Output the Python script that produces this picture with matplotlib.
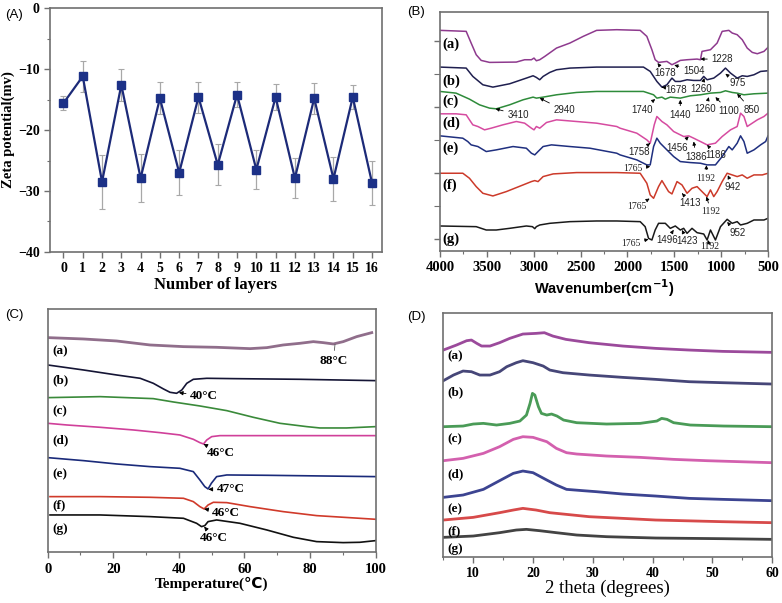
import matplotlib
matplotlib.use('Agg')
import matplotlib.pyplot as plt
from matplotlib.ticker import MultipleLocator, FixedLocator

SERIF = ['Liberation Serif', 'DejaVu Serif']
SANS = ['Liberation Sans', 'DejaVu Sans']

### (A) zeta potential vs number of layers
layers = list(range(17))
zeta = [-15.6, -11.2, -28.5, -12.6, -27.9, -14.8, -27.0, -14.6, -25.7,
        -14.2, -26.5, -14.6, -27.9, -14.8, -28.0, -14.6, -28.7]
zeta_err = [1.1, 2.5, 4.4, 2.6, 3.9, 2.6, 3.7, 2.55, 3.35,
            2.1, 3.25, 2.2, 3.3, 2.5, 3.65, 1.9, 3.65]

### (B) FTIR spectra (wavenumber, transmittance a.u.)
ir_labels = ['(a)', '(b)', '(c)', '(d)', '(e)', '(f)', '(g)']
ir_colors = ['#8e3a8e', '#1f1f4f', '#2e8b3a', '#d64ba0', '#1f2f7f', '#cc3a2a', '#1a1a1a']
ir_wn = [
    [4000, 3721, 3668, 3614, 3561, 3471, 3186, 3097, 3025, 2997, 2972, 2936, 2882, 2757, 2614, 2472, 2329, 2114,
     1864, 1793, 1739, 1704, 1668, 1579, 1525, 1489, 1436, 1364, 1257, 1221, 1204, 1114, 1043, 989, 918, 882,
     829, 775, 722, 668, 614, 543, 500],
    [4000, 3721, 3650, 3543, 3436, 3257, 3079, 3007, 2972, 2936, 2900, 2829, 2757, 2614, 2329, 2114,
     1829, 1757, 1686, 1632, 1579, 1525, 1489, 1436, 1364, 1293, 1221, 1186, 1150, 1079, 1007, 954, 900,
     829, 775, 722, 650, 579, 500],
    [4000, 3829, 3686, 3579, 3471, 3400, 3257, 3114, 3007, 2972, 2900, 2757, 2543, 2329, 2114,
     1829, 1721, 1686, 1632, 1596, 1543, 1436, 1329, 1221, 1114, 1007, 954, 882, 829, 757, 650, 500],
    [4000, 3829, 3721, 3686, 3650, 3596, 3525, 3454, 3329, 3186, 3097, 3025, 2997, 2972, 2936, 2864, 2757,
     2543, 2329, 2114, 2079, 1900, 1793, 1757, 1714, 1686, 1632, 1579, 1507, 1400, 1346, 1293, 1221, 1150,
     1061, 989, 900, 829, 793, 757, 722, 668, 614, 543, 500],
    [4000, 3757, 3704, 3668, 3596, 3507, 3400, 3221, 3079, 3025, 2989, 2954, 2900, 2811, 2614, 2400, 2114,
     2079, 1900, 1793, 1757, 1721, 1686, 1650, 1579, 1507, 1436, 1329, 1221, 1150, 1061, 989, 918, 882,
     829, 793, 757, 722, 650, 579, 525, 500],
    [4000, 3757, 3686, 3614, 3543, 3436, 3293, 3114, 3025, 2989, 2954, 2900, 2793, 2543, 2114,
     1864, 1793, 1757, 1721, 1668, 1632, 1561, 1525, 1471, 1418, 1364, 1311, 1257, 1204, 1150, 1114, 1079,
     1043, 989, 936, 882, 829, 775, 722, 650, 561, 500],
    [4000, 3614, 3507, 3400, 3257, 3079, 3014, 2989, 2972, 2936, 2829, 2614, 2329, 2114,
     1864, 1811, 1775, 1739, 1704, 1668, 1596, 1543, 1489, 1436, 1400, 1364, 1311, 1257, 1186, 1150, 1114,
     1061, 1007, 936, 882, 829, 793, 722, 650, 543, 500],
]
ir_val = [
    [661, 658, 623, 588, 571, 565, 566, 573, 573, 578, 570, 573, 583, 608, 623, 643, 661, 663,
     661, 643, 603, 573, 565, 568, 558, 563, 571, 573, 575, 573, 598, 603, 623, 658, 661, 653,
     648, 633, 608, 595, 591, 598, 610],
    [551, 548, 523, 498, 491, 501, 518, 525, 520, 513, 523, 535, 543, 548, 551, 551,
     551, 538, 508, 491, 498, 518, 508, 508, 513, 511, 511, 523, 513, 518, 533, 548, 533,
     518, 525, 523, 528, 538, 540],
    [478, 473, 455, 438, 428, 426, 438, 453, 461, 458, 461, 468, 475, 478, 478,
     478, 468, 458, 461, 455, 461, 458, 465, 468, 473, 475, 480, 475, 473, 468, 471, 473],
    [411, 411, 408, 393, 378, 373, 363, 368, 378, 388, 383, 368, 363, 373, 368, 385, 393,
     388, 383, 373, 368, 353, 333, 323, 378, 403, 388, 378, 358, 343, 345, 338, 328, 318,
     323, 343, 363, 373, 413, 403, 373, 383, 393, 403, 413],
    [345, 338, 328, 318, 313, 298, 303, 313, 308, 293, 288, 298, 313, 318, 313, 308, 293,
     288, 273, 258, 258, 313, 338, 323, 303, 283, 268, 265, 263, 258, 258, 283, 313, 303,
     323, 345, 328, 293, 303, 318, 328, 345],
    [233, 233, 218, 193, 173, 165, 178, 198, 208, 211, 208, 223, 231, 235, 235,
     233, 203, 168, 158, 193, 211, 178, 171, 208, 198, 173, 188, 193, 178, 163, 183, 163,
     178, 208, 233, 228, 223, 228, 218, 228, 228, 233],
    [75, 73, 63, 63, 68, 75, 73, 67, 73, 78, 83, 88, 90, 90,
     88, 73, 38, 33, 63, 83, 83, 68, 75, 63, 68, 53, 68, 55, 51, 33, 63,
     33, 73, 95, 83, 88, 78, 83, 93, 93, 98],
]
ir_label_val = [618, 508, 448, 383, 308, 198, 35]
# (text, peak wn, peak value, text wn, text value, serif?)
ir_notes = [
    ('1228', 1221, 575, 989, 575, False), ('1678', 1679, 563, 1596, 533, False),
    ('1504', 1500, 557, 1293, 540, False), ('1678', 1632, 491, 1479, 483, False),
    ('1260', 1179, 518, 1214, 486, False), ('975', 954, 531, 829, 503, False),
    ('1740', 1704, 455, 1846, 423, False), ('1440', 1436, 453, 1436, 408, False),
    ('1260', 1132, 461, 1168, 425, False), ('1100', 1061, 461, 918, 420, False),
    ('850', 829, 471, 679, 423, False), ('3410', 3407, 426, 3168, 408, False),
    ('2940', 2936, 458, 2675, 421, False), ('1758', 1757, 323, 1875, 298, False),
    ('1456', 1346, 343, 1471, 310, False), ('1386', 1293, 328, 1268, 283, False),
    ('1186', 1150, 318, 1054, 288, False), ('1765', 1757, 253, 1946, 248, True),
    ('1192', 1157, 257, 1161, 218, True), ('942', 929, 227, 875, 193, False),
    ('1765', 1764, 157, 1900, 133, True), ('1413', 1418, 173, 1329, 145, False),
    ('1192', 1157, 163, 1107, 118, True), ('1765', 1775, 35, 1964, 23, True),
    ('1496', 1507, 63, 1579, 33, False), ('1423', 1418, 63, 1364, 31, False),
    ('1192', 1143, 33, 1121, 15, True), ('952', 936, 87, 829, 53, False),
]

### (C) DSC curves (temperature, heat flow a.u.)
dsc_colors = ['#7d5577', '#151535', '#3a8a3a', '#d0409a', '#1a2a7a', '#d03a2a', '#111111']
dsc_t = [
    [0.2, 10.9, 21.0, 31.2, 41.4, 51.5, 61.7, 66.8, 71.8, 76.9, 81.0, 84.0, 87.1, 90.1, 94.2, 98.8],
    [0, 10.9, 21.0, 28.2, 32.2, 35.3, 37.3, 39.3, 40.9, 42.4, 44.4, 48.5, 56.6, 76.9, 100],
    [0, 16.0, 32.2, 38.3, 46.4, 54.6, 62.7, 70.8, 79.0, 83.0, 91.1, 100],
    [0, 5.8, 16.0, 26.1, 34.2, 40.3, 44.4, 46.4, 47.5, 48.5, 50.0, 52.5, 66.8, 100],
    [0, 10.9, 21.0, 31.2, 40.3, 44.4, 46.4, 47.9, 48.9, 49.9, 51.5, 54.6, 66.8, 100],
    [0.7, 16.0, 31.2, 41.4, 44.4, 46.4, 47.7, 48.9, 50.5, 54.6, 61.7, 71.8, 82.0, 100],
    [0.7, 16.0, 31.2, 41.4, 45.4, 46.9, 47.9, 48.9, 51.5, 58.6, 66.8, 74.9, 82.0, 90.1, 95.2, 100],
]
dsc_val = [
    [644, 640, 634, 622, 617, 615, 611, 614, 622, 627, 632, 629, 625, 632, 647, 659],
    [562, 547, 532, 522, 507, 490, 480, 477, 487, 507, 519, 522, 521, 519, 515],
    [464, 467, 461, 451, 439, 425, 405, 387, 377, 373, 373, 377],
    [387, 382, 375, 367, 359, 352, 339, 329, 325, 337, 347, 350, 350, 350],
    [284, 275, 265, 257, 252, 242, 217, 197, 190, 207, 227, 232, 231, 227],
    [167, 167, 165, 162, 152, 137, 130, 142, 150, 149, 137, 122, 110, 99],
    [112, 112, 107, 102, 87, 77, 80, 92, 97, 87, 67, 45, 32, 29, 30, 35],
]
dsc_label_val = [602, 517, 422, 335, 234, 140, 70]
dsc_notes = [
    ('40°C', 40.0, 479, 47.7, 469), ('46°C', 47.5, 325, 52.7, 297),
    ('47°C', 49.0, 189, 55.8, 189), ('46°C', 47.7, 130, 54.4, 119),
    ('46°C', 47.7, 77, 50.7, 42),
]

### (D) XRD patterns (2 theta, intensity a.u.)
xrd_colors = ['#8a2a8a', '#262660', '#2a8a3a', '#cc44a0', '#1a237e', '#d02a2a', '#222222']
xrd_2t = [
    [5, 7.2, 8.9, 9.7, 10.6, 11.4, 12.8, 14.4, 16.1, 18.3, 20.5, 21.9, 23.3, 25.5, 29.4, 35.0, 40.5, 46.1, 51.7, 60],
    [5, 6.7, 8.3, 9.7, 11.1, 12.8, 14.4, 15.6, 17.2, 18.3, 20.0, 21.7, 22.8, 25.0, 29.4, 35.0, 40.5, 46.1, 51.7, 60],
    [5, 8.3, 10.0, 11.7, 13.9, 16.1, 17.8, 18.9, 19.5, 19.9, 20.3, 20.9, 21.4, 22.3, 23.1, 24.0, 25.1, 27.3,
     32.3, 37.9, 40.7, 41.5, 42.4, 43.5, 46.3, 51.9, 60],
    [5, 8.3, 11.7, 14.4, 16.7, 18.3, 20.0, 22.3, 23.9, 25.6, 27.3, 32.3, 37.9, 43.5, 49.1, 60],
    [5, 8.3, 11.7, 14.4, 16.7, 18.3, 20.0, 22.3, 23.9, 25.6, 28.4, 30.6, 35.0, 40.5, 46.1, 51.7, 60],
    [5, 10.0, 14.4, 16.7, 18.3, 20.5, 22.8, 25.0, 29.4, 35.0, 40.5, 51.7, 60],
    [5, 10.0, 14.4, 17.2, 18.9, 21.1, 23.9, 27.3, 32.3, 40.5, 51.7, 60],
]
xrd_val = [
    [620, 635, 648, 650, 640, 632, 632, 642, 655, 668, 670, 672, 662, 652, 642, 632, 625, 620, 616, 613],
    [528, 545, 557, 555, 545, 545, 555, 570, 582, 588, 582, 572, 560, 552, 545, 538, 532, 525, 522, 518],
    [390, 392, 398, 400, 395, 400, 407, 425, 460, 490, 485, 450, 430, 425, 428, 422, 410, 402,
     398, 400, 407, 415, 412, 402, 395, 392, 390],
    [288, 295, 310, 330, 352, 360, 358, 345, 325, 312, 308, 302, 298, 292, 288, 282],
    [178, 185, 202, 228, 250, 257, 252, 230, 215, 202, 198, 195, 188, 182, 175, 172, 168],
    [110, 118, 132, 140, 145, 140, 132, 128, 120, 115, 110, 105, 102],
    [58, 62, 72, 80, 82, 78, 72, 65, 60, 56, 54, 52],
]
xrd_label_val = [600, 492, 352, 247, 143, 77, 22]


def style_axes(ax):
    for s in ax.spines.values():
        s.set_color('#707070')
        s.set_linewidth(1.2)
    ax.tick_params(which='both', direction='out', color='#707070', top=False, right=False)
    ax.tick_params(which='major', length=4, width=1)
    ax.tick_params(which='minor', length=2.5, width=0.8)
    for lab in ax.get_xticklabels() + ax.get_yticklabels():
        lab.set_fontfamily(SERIF)
        lab.set_fontweight('bold')


fig = plt.figure(figsize=(7.82, 6.03), dpi=100)

# ---------- (A) ----------
axA = fig.add_axes([0.0639, 0.5821, 0.4242, 0.4046])
axA.errorbar(layers, zeta, yerr=zeta_err, fmt='none', ecolor='#a8a8a8',
             elinewidth=0.9, capsize=2.5, capthick=0.8, zorder=1)
axA.plot(layers, zeta, color='#1c2a78', lw=1.6, marker='s', ms=5.5,
         mfc='#1c3187', mec='#1c3187', zorder=2)
axA.set_xlim(-0.7, 16.5)
axA.set_ylim(-40, 0)
axA.xaxis.set_major_locator(MultipleLocator(1))
axA.yaxis.set_major_locator(MultipleLocator(10))
axA.yaxis.set_minor_locator(MultipleLocator(5))
axA.tick_params(labelsize=10)
style_axes(axA)
axA.set_xlabel('Number of layers', fontfamily=SERIF, fontweight='bold', fontsize=12, labelpad=1)
axA.set_ylabel('Zeta potential(mv)', fontfamily=SERIF, fontweight='bold', fontsize=10.5, labelpad=2)

# ---------- (B) ----------
axB = fig.add_axes([0.5627, 0.5837, 0.4194, 0.3964])
for wn, v, c in zip(ir_wn, ir_val, ir_colors):
    axB.plot(wn, v, color=c, lw=1.1)
for lab, v in zip(ir_labels, ir_label_val):
    axB.text(3975, v, lab, fontfamily=SERIF, fontweight='bold', fontsize=10.5, ha='left', va='center')
for t, px, py, tx, ty, serif in ir_notes:
    axB.annotate(t, xy=(px, py), xytext=(tx, ty), ha='center', va='center',
                 fontsize=7, fontfamily=SERIF if serif else SANS, color='#222222',
                 arrowprops=dict(arrowstyle='-|>', color='k', lw=0.6, mutation_scale=5,
                                 shrinkA=1, shrinkB=0))
axB.set_xlim(4000, 500)
axB.set_ylim(0, 716)
axB.xaxis.set_major_locator(MultipleLocator(500))
axB.xaxis.set_minor_locator(MultipleLocator(250))
axB.yaxis.set_major_locator(FixedLocator([35, 233, 431, 629]))
axB.yaxis.set_minor_locator(FixedLocator([134, 332, 530]))
axB.set_yticklabels([])
axB.tick_params(labelsize=10.5)
style_axes(axB)
axB.tick_params(axis='y', which='minor', length=4)
axB.set_xlabel(r'Wavenumber(cm$^{\mathbf{-1}}$)', fontfamily=SANS, fontweight='bold', fontsize=10.5, labelpad=2)

# ---------- (C) ----------
axC = fig.add_axes([0.0610, 0.0841, 0.4194, 0.4035])
for t, v, c in zip(dsc_t, dsc_val, dsc_colors):
    axC.plot(t, v, color=c, lw=2.0 if c == dsc_colors[0] else 1.2, alpha=0.85 if c == dsc_colors[0] else 1)
for lab, v in zip(ir_labels, dsc_label_val):
    axC.text(1.5, v, lab, fontfamily=SERIF, fontweight='bold', fontsize=9.5, ha='left', va='center')
for t, px, py, tx, ty in dsc_notes:
    axC.annotate(t, xy=(px, py), xytext=(tx, ty), ha='center', va='center',
                 fontsize=9.5, fontfamily=SERIF, fontweight='bold',
                 arrowprops=dict(arrowstyle='-|>', color='k', lw=0.6, mutation_scale=6,
                                 shrinkA=1, shrinkB=0))
axC.annotate('88°C', xy=(87.6, 624), xytext=(87.1, 575), ha='center', va='center',
             fontsize=9.5, fontfamily=SERIF, fontweight='bold',
             arrowprops=dict(arrowstyle='-', color='#555555', lw=0.6, shrinkA=1, shrinkB=0))
axC.set_xlim(0, 100)
axC.set_ylim(0, 730)
axC.xaxis.set_major_locator(MultipleLocator(20))
axC.xaxis.set_minor_locator(MultipleLocator(10))
axC.set_yticks([])
axC.tick_params(labelsize=10.5)
style_axes(axC)
axC.set_xlabel('Temperature(℃)', fontfamily=['Liberation Serif', 'DejaVu Sans'],
               fontweight='bold', fontsize=11, labelpad=1)

# ---------- (D) ----------
axD = fig.add_axes([0.5669, 0.0768, 0.4207, 0.4035])
for t, v, c in zip(xrd_2t, xrd_val, xrd_colors):
    axD.plot(t, v, color=c, lw=2.0, alpha=0.85)
for lab, v in zip(ir_labels, xrd_label_val):
    axD.text(5.6, v, lab, fontfamily=SERIF, fontweight='bold', fontsize=9.5, ha='left', va='center')
axD.set_xlim(5, 60)
axD.set_ylim(0, 730)
axD.xaxis.set_major_locator(MultipleLocator(10))
axD.xaxis.set_minor_locator(MultipleLocator(5))
axD.set_yticks([])
axD.tick_params(labelsize=10)
style_axes(axD)
axD.set_xlabel('2 theta (degrees)', fontfamily=SERIF, fontsize=13.5, labelpad=0)

# panel letters
for lab, x, y in [('(A)', 0.007, 0.985), ('(B)', 0.521, 0.99), ('(C)', 0.007, 0.487), ('(D)', 0.521, 0.485)]:
    fig.text(x, y, lab, fontfamily=SANS, fontsize=9.5, ha='left', va='top')

fig.savefig('out.png', dpi=100)
